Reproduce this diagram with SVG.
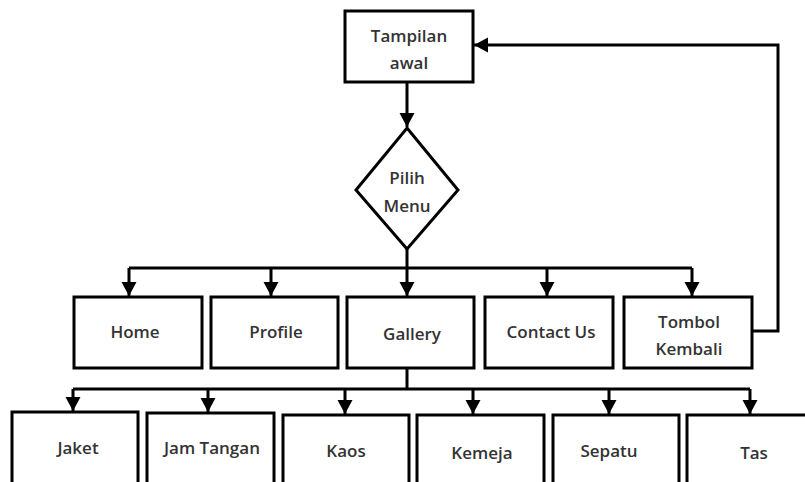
<svg xmlns="http://www.w3.org/2000/svg" width="805" height="482" viewBox="0 0 805 482">
<defs>
<style>
.box{fill:#fff;stroke:#000;stroke-width:3}
.ln{fill:none;stroke:#000;stroke-width:3}
text{font-family:"Open Sans","Noto Sans",sans-serif;font-size:17px;font-weight:600;fill:#333;text-anchor:middle;dominant-baseline:central}
</style>
<marker id="ah" markerUnits="userSpaceOnUse" markerWidth="16" markerHeight="16" viewBox="0 0 16 16" refX="14" refY="8" orient="auto">
<path d="M0,0.5 L14,8 L0,15.5 Z" fill="#000"/>
</marker>
</defs>
<rect width="805" height="482" fill="#fff"/>
<g id="connectors">
<path class="ln" d="M407,82 V127" marker-end="url(#ah)"/>
<path class="ln" d="M407,249 V268"/>
<path class="ln" d="M129,268 H692"/>
<path class="ln" d="M129,268 V296" marker-end="url(#ah)"/>
<path class="ln" d="M271,268 V296" marker-end="url(#ah)"/>
<path class="ln" d="M407,268 V296" marker-end="url(#ah)"/>
<path class="ln" d="M547,268 V296" marker-end="url(#ah)"/>
<path class="ln" d="M692,268 V296" marker-end="url(#ah)"/>
<path class="ln" d="M752,331 H778 V45 H474" marker-end="url(#ah)"/>
<path class="ln" d="M407,368 V389"/>
<path class="ln" d="M73,389 H750"/>
<path class="ln" d="M73,389 V411" marker-end="url(#ah)"/>
<path class="ln" d="M208,389 V412" marker-end="url(#ah)"/>
<path class="ln" d="M345,389 V414" marker-end="url(#ah)"/>
<path class="ln" d="M473,389 V414" marker-end="url(#ah)"/>
<path class="ln" d="M609,389 V414" marker-end="url(#ah)"/>
<path class="ln" d="M750,389 V414" marker-end="url(#ah)"/>
</g>
<g id="tampilan"><rect class="box" x="345" y="11" width="128" height="71"/><text x="409" y="35">Tampilan</text><text x="409" y="62">awal</text></g>
<g id="pilih"><path class="box" d="M407,128 L458,190 L407,249 L356,190 Z"/><text x="407" y="177">Pilih</text><text x="407" y="205">Menu</text></g>
<g id="home"><rect class="box" x="74" y="297" width="128" height="71"/><text x="135" y="331">Home</text></g>
<g id="profile"><rect class="box" x="211" y="297" width="127" height="71"/><text x="276" y="331">Profile</text></g>
<g id="gallery"><rect class="box" x="347" y="297" width="127" height="71"/><text x="412" y="333">Gallery</text></g>
<g id="contact"><rect class="box" x="485" y="297" width="128" height="71"/><text x="551" y="331">Contact Us</text></g>
<g id="tombol"><rect class="box" x="624" y="297" width="128" height="71"/><text x="689" y="321">Tombol</text><text x="689" y="348">Kembali</text></g>
<g id="jaket"><rect class="box" x="12" y="412" width="126" height="80"/><text x="78" y="447">Jaket</text></g>
<g id="jam"><rect class="box" x="147" y="413" width="127" height="80"/><text x="212" y="447">Jam Tangan</text></g>
<g id="kaos"><rect class="box" x="283" y="415" width="126" height="80"/><text x="346" y="450">Kaos</text></g>
<g id="kemeja"><rect class="box" x="417" y="415" width="127" height="80"/><text x="482" y="452">Kemeja</text></g>
<g id="sepatu"><rect class="box" x="553" y="415" width="126" height="80"/><text x="609" y="450">Sepatu</text></g>
<g id="tas"><rect class="box" x="687" y="415" width="140" height="80"/><text x="754" y="452">Tas</text></g>
</svg>
